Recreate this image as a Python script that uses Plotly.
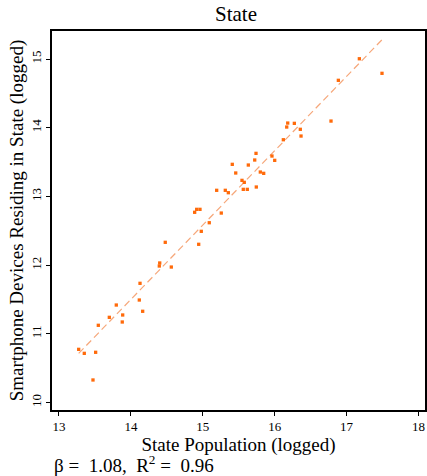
import numpy as np
import plotly.graph_objects as go

# State population (logged) and smartphone devices residing in state (logged)
pop_log = [13.274, 13.352, 13.510, 13.473, 13.547, 13.700, 13.797, 13.886, 13.880, 14.127,
           14.117, 14.164, 14.478, 14.401, 14.395, 14.562, 14.943, 14.979, 15.090, 14.887,
           14.915, 14.961, 15.257, 15.193, 15.313, 15.355, 15.410, 15.458, 15.545, 15.577,
           15.563, 15.619, 15.744, 15.633, 15.722, 15.740, 15.800, 15.847, 15.962, 16.000,
           16.120, 16.167, 16.181, 16.273, 16.356, 16.366, 16.783, 16.885, 17.177, 17.492]
dev_log = [10.774, 10.716, 10.731, 10.328, 11.124, 11.240, 11.419, 11.274, 11.172, 11.735,
           11.492, 11.328, 12.332, 12.031, 11.987, 11.972, 12.303, 12.492, 12.617, 12.769,
           12.812, 12.812, 12.758, 13.089, 13.089, 13.054, 13.467, 13.341, 13.234, 13.205,
           13.103, 13.103, 13.137, 13.457, 13.530, 13.627, 13.355, 13.336, 13.588, 13.525,
           13.825, 14.010, 14.068, 14.064, 13.977, 13.879, 14.097, 14.690, 15.004, 14.792]

x_ticks = [13, 14, 15, 16, 17, 18]
y_ticks = [10, 11, 12, 13, 14, 15]

title_text = "State"
x_title = "State Population (logged)"
y_title = "Smartphone Devices Residing in State (logged)"
note_text = "β =  1.08,  R<sup>2</sup> =  0.96"

x = np.array(pop_log)
y = np.array(dev_log)
slope, intercept = np.polyfit(x, y, 1)
fit_x = np.array([x.min(), x.max()])
fit_y = intercept + slope * fit_x

FONT = "Liberation Serif"

fig = go.Figure()
fig.add_trace(go.Scatter(x=fit_x, y=fit_y, mode="lines",
                         line=dict(color="#f6a77a", width=1.2, dash="7px,4px"),
                         hoverinfo="skip", showlegend=False))
fig.add_trace(go.Scatter(x=pop_log, y=dev_log, mode="markers",
                         marker=dict(color="#ff6a0a", size=3.3, symbol="square",
                                     line=dict(width=0)),
                         showlegend=False))

axis_common = dict(ticks="outside", ticklen=4, tickwidth=1, tickcolor="black",
                   showgrid=False, zeroline=False, showline=True, linecolor="black",
                   linewidth=1.5, mirror=True, automargin=False,
                   tickfont=dict(size=13, family=FONT, color="black"))

fig.update_layout(
    template="none",
    width=427, height=476,
    margin=dict(l=52, r=2, t=31, b=66, autoexpand=False),
    paper_bgcolor="white", plot_bgcolor="white",
    font=dict(family=FONT, color="black"),
    title=dict(text=title_text, x=(236 / 427), xanchor="center",
               y=1 - 14 / 476, yanchor="middle",
               font=dict(size=21, family=FONT, color="black")),
    xaxis=dict(range=[12.903, 18.090], tickvals=x_ticks,
               title=dict(text=x_title, font=dict(size=19, family=FONT, color="black"),
                          standoff=0),
               **axis_common),
    yaxis=dict(range=[9.891, 15.408], tickvals=y_ticks, tickangle=-90,
               title=dict(text=y_title, font=dict(size=19, family=FONT, color="black"),
                          standoff=0),
               **axis_common),
    annotations=[dict(text=note_text, xref="paper", yref="paper", x=0, y=-0.142,
                      xanchor="left", yanchor="middle", showarrow=False,
                      font=dict(size=19, family=FONT, color="black"))],
)

fig.write_html("out.html", config={"displayModeBar": False},
               post_script="document.body.style.margin='0';document.body.style.overflow='hidden';")
